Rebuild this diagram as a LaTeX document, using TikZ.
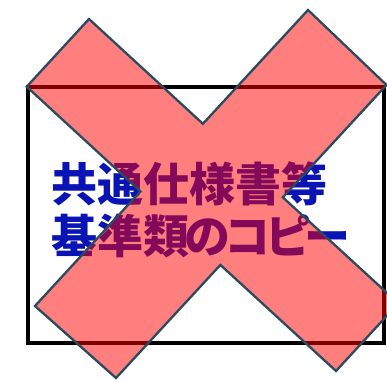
\documentclass[tikz,border=0pt]{standalone}
\usepackage{fontspec}
\newfontfamily\cjk[RawFeature=+palt]{Noto Sans CJK JP}
\definecolor{txtblue}{HTML}{0A14B4}
\definecolor{xline}{HTML}{2B4A60}
\newcommand{\kk}{\kern-4.5pt}
\tikzset{
  frame/.style={draw=black, line width=3.6pt},
  crossmark/.style={fill=red, fill opacity=0.5, draw=xline, line width=2.3pt, line join=miter},
  label/.style={font=\cjk\bfseries\fontsize{46}{52}\selectfont, text=txtblue, align=left, inner sep=0pt}
}
\begin{document}
\begin{tikzpicture}[x=1pt,y=-1pt]
\useasboundingbox (0,0) rectangle (387,379);
\clip (0,0) rectangle (387,379);
\draw[frame] (28,87) rectangle (384,343);
\node[label, anchor=north west] (txt) at (51,162) {共通仕様書等\\基準類\kk の\kk コ\kk ピ\kk ー};
\draw[crossmark] (89,19) -- (202.9,123.8) -- (308,10) -- (386.5,85) -- (282.8,197.3)
  -- (398.3,303.3) -- (336,371) -- (220.4,264.9) -- (116,378) -- (35,306)
  -- (140.5,191.4) -- (26.7,86.7) -- cycle;
\end{tikzpicture}
\end{document}
